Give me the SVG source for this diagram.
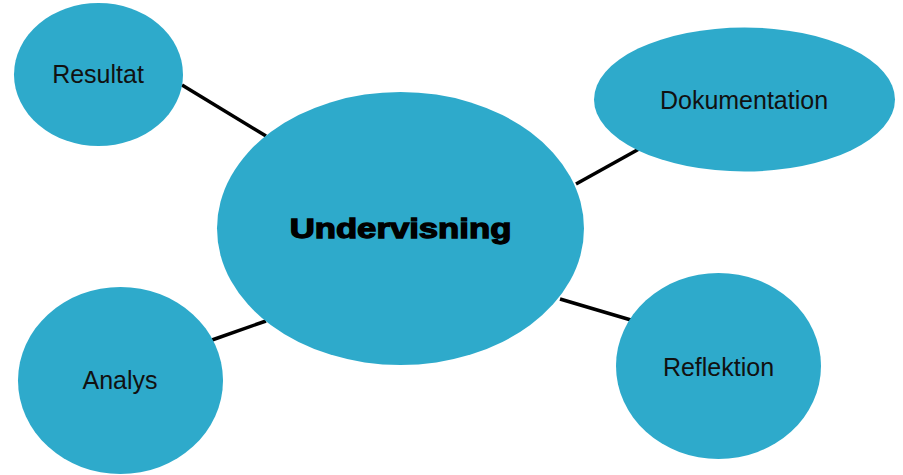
<svg xmlns="http://www.w3.org/2000/svg" width="903" height="475" viewBox="0 0 903 475">
<style>
.n{fill:#2eaacb}
.e{stroke:#000;stroke-width:3.5;stroke-linecap:butt}
.t{font-family:"Liberation Sans",Arial,sans-serif;font-size:25px;fill:#111;text-anchor:middle}
.c{font-family:"Liberation Sans",Arial,sans-serif;font-size:28px;font-weight:bold;fill:#000;stroke:#000;stroke-width:1.3;text-anchor:middle}
</style>
<rect width="903" height="475" fill="#fff"/>
<g id="connectors">
<line class="e" x1="182" y1="85" x2="266" y2="136"/>
<line class="e" x1="576" y1="184" x2="639" y2="149"/>
<line class="e" x1="560" y1="299" x2="631" y2="320"/>
<line class="e" x1="212" y1="340" x2="266" y2="321"/>
</g>
<g id="undervisning">
<ellipse class="n" cx="400.5" cy="228.5" rx="183.5" ry="136.5"/>
<text class="c" transform="translate(400.5,238) scale(1.24,1)" x="0" y="0">Undervisning</text>
</g>
<g id="resultat">
<ellipse class="n" cx="98.5" cy="74.5" rx="84.5" ry="71.5"/>
<text class="t" x="98" y="83">Resultat</text>
</g>
<g id="dokumentation">
<ellipse class="n" cx="744.5" cy="99.5" rx="150.5" ry="72"/>
<text class="t" x="744" y="109">Dokumentation</text>
</g>
<g id="reflektion">
<ellipse class="n" cx="718.5" cy="366" rx="102.5" ry="93"/>
<text class="t" x="718.5" y="376">Reflektion</text>
</g>
<g id="analys">
<ellipse class="n" cx="120.5" cy="380.5" rx="102.5" ry="93.5"/>
<text class="t" x="120" y="389">Analys</text>
</g>
</svg>
